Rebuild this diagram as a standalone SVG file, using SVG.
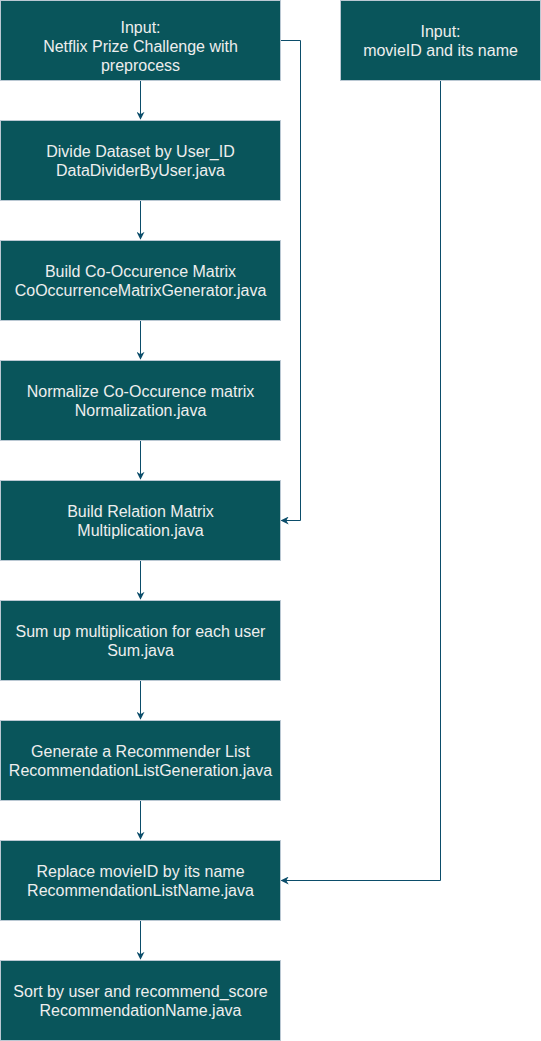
<svg xmlns="http://www.w3.org/2000/svg" width="541" height="1041" viewBox="0 0 541 1041">
<style>
.box{fill:#09555B;stroke:#BAC8D3;stroke-width:1}
.t{font-family:"Liberation Sans",Arial,sans-serif;font-size:16px;fill:#EEEEEE;text-anchor:middle}
.c{fill:none;stroke:#0B4D6A;stroke-width:1}
</style>
<defs>
<marker id="ah" viewBox="0 0 10 10" refX="9" refY="5" markerWidth="8" markerHeight="8" markerUnits="userSpaceOnUse" orient="auto">
<path d="M0,0 L10,5 L0,10 L3,5 Z" fill="#0B4D6A"/>
</marker>
</defs>
<g id="connectors">
<path class="c" d="M140.5,80.5 V119" marker-end="url(#ah)"/>
<path class="c" d="M140.5,200.5 V239" marker-end="url(#ah)"/>
<path class="c" d="M140.5,320.5 V359" marker-end="url(#ah)"/>
<path class="c" d="M140.5,440.5 V479" marker-end="url(#ah)"/>
<path class="c" d="M140.5,560.5 V599" marker-end="url(#ah)"/>
<path class="c" d="M140.5,680.5 V719" marker-end="url(#ah)"/>
<path class="c" d="M140.5,800.5 V839" marker-end="url(#ah)"/>
<path class="c" d="M140.5,920.5 V959" marker-end="url(#ah)"/>
<path class="c" d="M280.5,40.5 H300.5 V520.5 H281.5" marker-end="url(#ah)"/>
<path class="c" d="M440.5,80.5 V880.5 H281.5" marker-end="url(#ah)"/>
</g>
<g id="n1"><rect class="box" x="0.5" y="0.5" width="280" height="80"/>
<text class="t" x="140.5" y="33">Input:</text><text class="t" x="140.5" y="52">Netflix Prize Challenge with</text><text class="t" x="140.5" y="71">preprocess</text></g>
<g id="n2"><rect class="box" x="0.5" y="120.5" width="280" height="80"/>
<text class="t" x="140.5" y="157">Divide Dataset by User_ID</text><text class="t" x="140.5" y="176">DataDividerByUser.java</text></g>
<g id="n3"><rect class="box" x="0.5" y="240.5" width="280" height="80"/>
<text class="t" x="140.5" y="277">Build Co-Occurence Matrix</text><text class="t" x="140.5" y="296">CoOccurrenceMatrixGenerator.java</text></g>
<g id="n4"><rect class="box" x="0.5" y="360.5" width="280" height="80"/>
<text class="t" x="140.5" y="397">Normalize Co-Occurence matrix</text><text class="t" x="140.5" y="416">Normalization.java</text></g>
<g id="n5"><rect class="box" x="0.5" y="480.5" width="280" height="80"/>
<text class="t" x="140.5" y="517">Build Relation Matrix</text><text class="t" x="140.5" y="536">Multiplication.java</text></g>
<g id="n6"><rect class="box" x="0.5" y="600.5" width="280" height="80"/>
<text class="t" x="140.5" y="637">Sum up multiplication for each user</text><text class="t" x="140.5" y="656">Sum.java</text></g>
<g id="n7"><rect class="box" x="0.5" y="720.5" width="280" height="80"/>
<text class="t" x="140.5" y="757">Generate a Recommender List</text><text class="t" x="140.5" y="776">RecommendationListGeneration.java</text></g>
<g id="n8"><rect class="box" x="0.5" y="840.5" width="280" height="80"/>
<text class="t" x="140.5" y="877">Replace movieID by its name</text><text class="t" x="140.5" y="896">RecommendationListName.java</text></g>
<g id="n9"><rect class="box" x="0.5" y="960.5" width="280" height="80"/>
<text class="t" x="140.5" y="997">Sort by user and recommend_score</text><text class="t" x="140.5" y="1016">RecommendationName.java</text></g>
<g id="n10"><rect class="box" x="340.5" y="0.5" width="200" height="80"/>
<text class="t" x="440.5" y="37">Input:</text><text class="t" x="440.5" y="56">movieID and its name</text></g>
</svg>
